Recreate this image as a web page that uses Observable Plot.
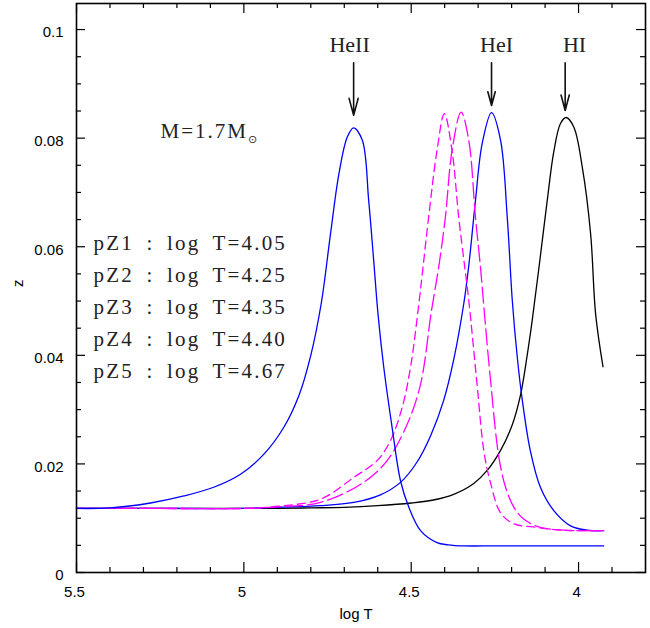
<!DOCTYPE html>
<html><head><meta charset="utf-8">
<script src="https://cdn.jsdelivr.net/npm/d3@7"></script>
<script src="https://cdn.jsdelivr.net/npm/@observablehq/plot@0.6"></script>
<style>body{margin:0;background:#fff}</style>
</head><body><div id="chart"></div>
<script>
// ---- axis ticks ----
const xMajorTicks = [5.5, 5, 4.5, 4];
const xTickLabels = ["5.5", "5", "4.5", "4"];
const xMinorTicks = [5.4, 5.3, 5.2, 5.1, 4.9, 4.8, 4.7, 4.6, 4.4, 4.3, 4.2, 4.1, 3.9];
const yMajorTicks = [0, 0.02, 0.04, 0.06, 0.08, 0.1];
const yTickLabels = ["0", "0.02", "0.04", "0.06", "0.08", "0.1"];
const yMinorTicks = [0.005, 0.01, 0.015, 0.025, 0.03, 0.035, 0.045, 0.05, 0.055, 0.065, 0.07, 0.075, 0.085, 0.09, 0.095];

// ---- series (log T, z) ----
const pZ1_logT = [5.5, 5.25, 5.0, 4.9, 4.8, 4.7, 4.6, 4.5, 4.43, 4.373, 4.313, 4.273, 4.233, 4.198, 4.173, 4.154, 4.139, 4.119, 4.094, 4.074, 4.054, 4.037, 4.014, 3.989, 3.964, 3.949, 3.927];
const pZ1_z    = [0.0118, 0.0118, 0.0118, 0.0118, 0.0119, 0.0120, 0.0123, 0.0128, 0.0134, 0.0144, 0.0164, 0.0188, 0.0225, 0.0272, 0.0328, 0.0398, 0.0462, 0.0558, 0.0683, 0.0775, 0.0827, 0.0838, 0.0820, 0.0747, 0.0624, 0.0476, 0.0379];

const pZ2_logT = [5.5, 5.25, 5.0, 4.9, 4.771, 4.672, 4.592, 4.532, 4.482, 4.442, 4.403, 4.373, 4.343, 4.328, 4.308, 4.288, 4.26, 4.233, 4.213, 4.198, 4.183, 4.168, 4.144, 4.114, 4.074, 4.024, 3.974, 3.925];
const pZ2_z    = [0.0118, 0.0118, 0.0118, 0.0120, 0.0123, 0.0129, 0.0143, 0.0166, 0.0204, 0.0252, 0.0317, 0.0392, 0.0495, 0.0565, 0.0685, 0.0790, 0.0847, 0.0796, 0.0654, 0.0501, 0.0396, 0.0317, 0.0224, 0.0157, 0.0114, 0.0086, 0.0078, 0.0077];

const pZ3_logT = [5.5, 5.25, 5.0, 4.9, 4.771, 4.642, 4.572, 4.512, 4.472, 4.44, 4.418, 4.398, 4.378, 4.351, 4.328, 4.308, 4.293, 4.283, 4.263, 4.238, 4.218, 4.193, 4.163, 4.114, 4.04, 3.98, 3.925];
const pZ3_z    = [0.0118, 0.0118, 0.0118, 0.0121, 0.0129, 0.0166, 0.0206, 0.0273, 0.0347, 0.0480, 0.0562, 0.0654, 0.0777, 0.0848, 0.0796, 0.0654, 0.0562, 0.0490, 0.0354, 0.0212, 0.0157, 0.0120, 0.0098, 0.0083, 0.0078, 0.0077, 0.0077];

const pZ4_logT = [5.5, 5.25, 5.0, 4.9, 4.771, 4.672, 4.602, 4.562, 4.527, 4.502, 4.48, 4.466, 4.448, 4.423, 4.401, 4.378, 4.358, 4.34, 4.328, 4.303, 4.283, 4.263, 4.233, 4.194, 4.124, 4.05, 3.98, 3.925];
const pZ4_z    = [0.0118, 0.0118, 0.0118, 0.0122, 0.0135, 0.0175, 0.0206, 0.0243, 0.0304, 0.0378, 0.0480, 0.0555, 0.0654, 0.0777, 0.0845, 0.0777, 0.0654, 0.0562, 0.0501, 0.0345, 0.0224, 0.0165, 0.0110, 0.0090, 0.0083, 0.0078, 0.0077, 0.0077];

const pZ5_logT = [5.5, 5.398, 5.279, 5.179, 5.09, 5.01, 4.94, 4.881, 4.836, 4.8, 4.769, 4.741, 4.716, 4.691, 4.672, 4.646, 4.627, 4.612, 4.599, 4.582, 4.557, 4.532, 4.507, 4.472, 4.423, 4.39, 4.343, 4.25, 4.15, 4.05, 3.925];
const pZ5_z    = [0.0118, 0.0119, 0.0128, 0.0141, 0.0157, 0.0181, 0.0218, 0.0267, 0.0325, 0.0400, 0.0495, 0.0624, 0.0734, 0.0802, 0.0819, 0.0796, 0.0685, 0.0574, 0.0475, 0.0378, 0.0267, 0.0169, 0.0120, 0.0077, 0.0055, 0.0051, 0.0049, 0.0049, 0.0049, 0.0049, 0.0049];

const seriesNames = ["pZ1", "pZ2", "pZ3", "pZ4", "pZ5"];
const seriesPeakLabels = ["4.05", "4.25", "4.35", "4.40", "4.67"];
const seriesColors = ["black", "#0000ff", "#ff00ff", "#ff00ff", "#0000ff"];
const seriesDash = [null, null, "16,5", "8,5", null];
const seriesLogT = [pZ1_logT, pZ2_logT, pZ3_logT, pZ4_logT, pZ5_logT];
const seriesZ = [pZ1_z, pZ2_z, pZ3_z, pZ4_z, pZ5_z];

// ---- annotations ----
const ionLabels = ["HeII", "HeI", "HI"];
const ionLabelLogT = [4.684, 4.245, 4.012];
const ionLabelZ = [0.0958, 0.0958, 0.0958];
const arrowLogT = [4.672, 4.26, 4.04];
const arrowTopZ = [0.0939, 0.0939, 0.0939];
const arrowTipZ = [0.0842, 0.0860, 0.0851];
const massLabel = ["M=1.7M\u2299"];
const massLogT = 5.249, massZ = 0.0801;
const legendLogT = 5.449, legendZ = 0.0359;

const W = 650, H = 628, mL = 76, mR = 5, mT = 3, mB = 56;
const innerW = W - mL - mR, innerH = H - mT - mB;

const lineMarks = seriesNames.map((name, i) => {
  const rows = seriesLogT[i].map((t, j) => ({logT: t, z: seriesZ[i][j]}));
  return Plot.line(rows, {x: "logT", y: "z", stroke: seriesColors[i], strokeWidth: 1.3,
    strokeDasharray: seriesDash[i], curve: "catmull-rom"});
});

const legendText = seriesNames.map((n, i) => `${n} : log T=${seriesPeakLabels[i]}`).join("\n");
const arrows = ionLabels.map((l, i) => ({x: arrowLogT[i], y1: arrowTopZ[i], y2: arrowTipZ[i]}));
const ions = ionLabels.map((l, i) => ({label: l, x: ionLabelLogT[i], y: ionLabelZ[i]}));
const xFmt = (d) => xTickLabels[xMajorTicks.indexOf(d)];
const yFmt = (d) => yTickLabels[yMajorTicks.indexOf(d)];

const chart = Plot.plot({
  width: W, height: H,
  marginLeft: mL, marginRight: mR, marginTop: mT, marginBottom: mB,
  style: {fontFamily: "'Liberation Sans', Arial, sans-serif", fontSize: "15px", background: "white", color: "black"},
  x: {domain: [5.5, 3.8], range: [mL, W - mR], label: null},
  y: {domain: [0, 0.1048], label: null},
  marks: [
    ...lineMarks,
    Plot.frame({strokeWidth: 1.6}),
    // inward ticks on all four sides
    Plot.tickX(xMajorTicks, {x: d => d, insetTop: innerH - 10, strokeWidth: 1.2}),
    Plot.tickX(xMinorTicks, {x: d => d, insetTop: innerH - 5, strokeWidth: 1.2}),
    Plot.tickX(xMajorTicks, {x: d => d, insetBottom: innerH - 10, strokeWidth: 1.2}),
    Plot.tickX(xMinorTicks, {x: d => d, insetBottom: innerH - 5, strokeWidth: 1.2}),
    Plot.tickY(yMajorTicks, {y: d => d, insetRight: innerW - 9, strokeWidth: 1.2}),
    Plot.tickY(yMinorTicks, {y: d => d, insetRight: innerW - 5, strokeWidth: 1.2}),
    Plot.tickY(yMajorTicks, {y: d => d, insetLeft: innerW - 9, strokeWidth: 1.2}),
    Plot.tickY(yMinorTicks, {y: d => d, insetLeft: innerW - 5, strokeWidth: 1.2}),
    Plot.axisX({ticks: xMajorTicks, tickFormat: xFmt, tickSize: 0, tickPadding: 14, label: null, dx: -2}),
    Plot.axisY({ticks: yMajorTicks, tickFormat: yFmt, tickSize: 0, tickPadding: 13, label: null, dy: 3}),
    Plot.text(["log T"], {frameAnchor: "bottom", dy: 46, dx: -5, lineAnchor: "bottom", fontSize: 15}),
    Plot.text(["z"], {frameAnchor: "left", dx: -58, dy: -1, rotate: -90, fontSize: 15}),
    Plot.arrow(arrows, {x: "x", y1: "y1", y2: "y2", strokeWidth: 1.6, headLength: 17, headAngle: 30, stroke: "#111"}),
    Plot.text(ions, {x: "x", y: "y", text: "label", lineAnchor: "bottom", textAnchor: "middle",
      fontFamily: "'Liberation Serif', 'Times New Roman', serif", fontSize: 22, fill: "#222"}),
    Plot.text(massLabel, {x: () => massLogT, y: () => massZ, textAnchor: "start", lineAnchor: "bottom",
      fontFamily: "'Liberation Serif', 'Times New Roman', serif", fontSize: 21, fill: "#222"}),
    Plot.text([legendText], {x: () => legendLogT, y: () => legendZ, textAnchor: "start", lineAnchor: "bottom", lineHeight: 1.524,
      fontFamily: "'Liberation Serif', 'Times New Roman', serif", fontSize: 21, fill: "#222"})
  ]
});

// text spacing tweaks and the solar subscript
d3.select(chart).selectAll("text").each(function() {
  const t = this.textContent;
  if (t.startsWith("pZ1")) {
    this.style.letterSpacing = "2.2px";
    this.style.wordSpacing = "5px";
  } else if (t === massLabel[0]) {
    this.style.letterSpacing = "2px";
    this.textContent = "M=1.7M";
    const ts = document.createElementNS("http://www.w3.org/2000/svg", "tspan");
    ts.textContent = "\u2299";
    ts.setAttribute("dy", "5");
    ts.setAttribute("font-size", "11");
    ts.setAttribute("font-family", "'DejaVu Sans', sans-serif");
    this.appendChild(ts);
  }
});

document.getElementById("chart").appendChild(chart);
</script>
</body></html>
